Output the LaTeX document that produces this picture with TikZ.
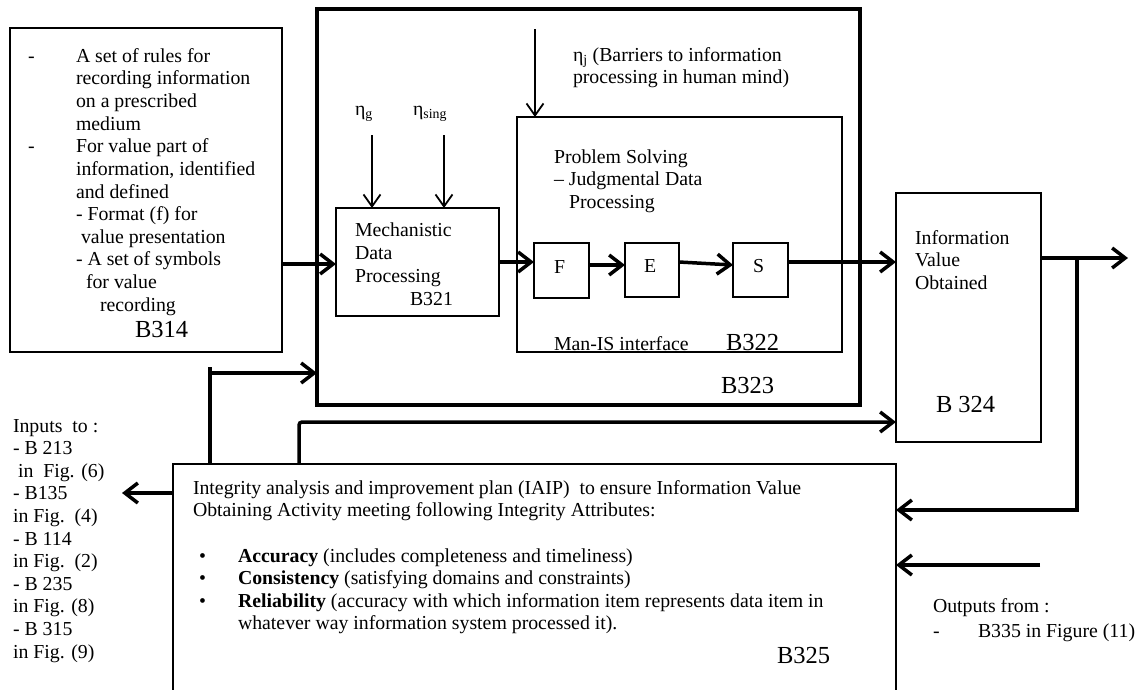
\documentclass[tikz,border=0pt]{standalone}
\usepackage{fontspec}
\setmainfont{Liberation Serif}
\usetikzlibrary{arrows.meta}
\tikzset{
  tx/.style={anchor=base west, inner sep=0pt, outer sep=0pt, font=\fontsize{19.8pt}{22.6pt}\selectfont},
  lab/.style={anchor=base west, inner sep=0pt, outer sep=0pt, font=\fontsize{24.5pt}{28pt}\selectfont},
  bx/.style={draw, line width=1.8pt, anchor=north west, inner sep=0pt, outer sep=0pt},
  bigbx/.style={draw, line width=3.6pt, anchor=north west, inner sep=0pt, outer sep=0pt},
  thk/.style={line width=3.5pt, -{Straight Barb[length=13pt,width=20pt]}},
  thkl/.style={line width=3.5pt},
  thn/.style={line width=1.8pt, -{Straight Barb[length=12pt,width=17pt]}}
}
\begin{document}
\begin{tikzpicture}[x=1pt,y=-1pt]
\useasboundingbox (0,0) rectangle (1141,689);

% ---------- boxes ----------
\node[bx, minimum width=272pt, minimum height=324pt] (b314) at (10,28) {};
\node[bigbx, minimum width=543pt, minimum height=396pt] (b323) at (317,9) {};
\node[bx, minimum width=163pt, minimum height=108pt] (b321) at (336,208) {};
\node[bx, minimum width=325pt, minimum height=235pt] (b322) at (517,117) {};
\node[bx, minimum width=55pt, minimum height=55pt] (boxF) at (534,243) {};
\node[bx, minimum width=54pt, minimum height=54pt] (boxE) at (625,243) {};
\node[bx, minimum width=55pt, minimum height=54pt] (boxS) at (733,243) {};
\node[bx, minimum width=145pt, minimum height=249pt] (b324) at (896,193) {};
\node[anchor=north west, inner sep=0pt, outer sep=0pt, minimum width=723pt, minimum height=226pt] (b325) at (173,464) {};
\draw[line width=1.8pt] (b325.south west) -- (b325.north west) -- (b325.north east) -- (b325.south east);

% ---------- B314 text ----------
\node[tx] (d1) at (28,62) {-};
\node[tx] (l1) at (76,62) {A set of rules for};
\node[tx] (l2) at (76,84.7) {recording information};
\node[tx] (l3) at (76,107.3) {on a prescribed};
\node[tx] (l4) at (76,130) {medium};
\node[tx] (d2) at (28,152.6) {-};
\node[tx] (l5) at (76,152.6) {For value part of};
\node[tx] (l6) at (76,175.3) {information, identified};
\node[tx] (l7) at (76,198) {and defined};
\node[tx] (l8) at (76,220.6) {- Format (f) for};
\node[tx] (l9) at (81,243.2) {value presentation};
\node[tx] (l10) at (76,265.9) {- A set of symbols};
\node[tx] (l11) at (86,288.6) {for value};
\node[tx] (l12) at (100,311.5) {recording};
\node[lab] (lb314) at (135,337) {B314};

% ---------- B321 ----------
\node[tx] (eta1) at (355,115) {η\textsubscript{g}};
\node[tx] (eta2) at (413,115) {η\textsubscript{sing}};
\node[tx] (m1) at (355,236) {Mechanistic};
\node[tx] (m2) at (355,259) {Data};
\node[tx] (m3) at (355,282) {Processing};
\node[tx] (m4) at (410,305) {B321};

% ---------- B322 ----------
\node[tx] (j1) at (573,61) {η\textsubscript{j} (Barriers to information};
\node[tx] (j2) at (573,83.6) {processing in human mind)};
\node[tx] (p1) at (554,163) {Problem Solving};
\node[tx] (p2) at (554,185.6) {– Judgmental Data};
\node[tx] (p3) at (569,208.2) {Processing};
\node[tx] (tF) at (554,273) {F};
\node[tx] (tE) at (644,272) {E};
\node[tx] (tS) at (753,272) {S};
\node[tx] (mis) at (554,350) {Man-IS interface};
\node[lab] (lb322) at (726,350) {B322};
\node[lab] (lb323) at (721,393) {B323};

% ---------- B324 ----------
\node[tx] (i1) at (915,244) {Information};
\node[tx] (i2) at (915,266.6) {Value};
\node[tx] (i3) at (915,289.2) {Obtained};
\node[lab] (lb324) at (936,412) {B 324};

% ---------- B325 ----------
\node[tx] (q1) at (193,494) {Integrity analysis and improvement plan (IAIP)\ \ to ensure Information Value};
\node[tx] (q2) at (193,516.6) {Obtaining Activity meeting following Integrity Attributes:};
\node[tx] (bu1) at (199,562) {\textbullet};
\node[tx] (bu2) at (199,584.6) {\textbullet};
\node[tx] (bu3) at (199,607.2) {\textbullet};
\node[tx] (a1) at (238,562) {\textbf{Accuracy} (includes completeness and timeliness)};
\node[tx] (a2) at (238,584.6) {\textbf{Consistency} (satisfying domains and constraints)};
\node[tx] (a3) at (238,607.2) {\textbf{Reliability} (accuracy with which information item represents data item in};
\node[tx] (a4) at (238,629.8) {whatever way information system processed it).};
\node[lab] (lb325) at (777,663) {B325};

% ---------- Inputs / Outputs ----------
\node[tx] (in1) at (13,432) {Inputs\ \ to :};
\node[tx] (in2) at (13,454.6) {- B 213};
\node[tx] (in3) at (18,477.2) {in\ \ Fig. (6)};
\node[tx] (in4) at (13,499.8) {- B135};
\node[tx] (in5) at (13,522.4) {in Fig.\ \ (4)};
\node[tx] (in6) at (13,545) {- B 114};
\node[tx] (in7) at (13,567.6) {in Fig.\ \ (2)};
\node[tx] (in8) at (13,590.2) {- B 235};
\node[tx] (in9) at (13,612.8) {in Fig. (8)};
\node[tx] (in10) at (13,635.4) {- B 315};
\node[tx] (in11) at (13,658) {in Fig. (9)};
\node[tx] (o1) at (933,612) {Outputs from :};
\node[tx] (o2) at (933,637) {-};
\node[tx] (o3) at (978,637) {B335 in Figure (11)};

% ---------- helper coordinates ----------
\coordinate (yIn) at (0,264);
\coordinate (yA) at (0,265);
\coordinate (yE) at (0,262);
\coordinate (ySo) at (0,262);
\coordinate (yOut) at (0,258);
\coordinate (outEnd) at (1128,258);
\coordinate (tj) at (1077,258);
\coordinate (yFb) at (0,510);
\coordinate (outsrc) at (1040,565);
\coordinate (yInp) at (0,493);
\coordinate (inpEnd) at (122,493);
\coordinate (up1) at (210,367);
\coordinate (up1c) at (210,373);
\coordinate (up2) at (299,422);
\coordinate (eg) at (372,135);
\coordinate (esing) at (444,135);
\coordinate (ej) at (535,29);

% ---------- connectors ----------
\draw[thk] (b314.east |- yIn) -- (b321.west |- yIn);
\draw[thk] (b321.east) -- (b321.east -| boxF.west);
\draw[thk] (boxF.east |- yA) -- (boxE.west |- yA);
\draw[thk] (boxE.east |- yE) -- (boxS.west |- yA);
\draw[thk] (boxS.east |- ySo) -- (b324.west |- ySo);
\draw[thk] (b324.east |- yOut) -- (outEnd);
\draw[thk] (tj) |- (b325.east |- yFb);
\draw[thk] (outsrc) -- (b325.east |- outsrc);
\draw[thk] (b325.west |- yInp) -- (inpEnd);
\draw[thkl] (b325.north -| up1) -- (up1);
\draw[thk] (up1c) -- (b323.west |- up1c);
\draw[thk, rounded corners=3pt] (b325.north -| up2) |- (b324.west |- up2);
\draw[thn] (eg) -- (eg |- b321.north);
\draw[thn] (esing) -- (esing |- b321.north);
\draw[thn] (ej) -- (ej |- b322.north);
\end{tikzpicture}
\end{document}
